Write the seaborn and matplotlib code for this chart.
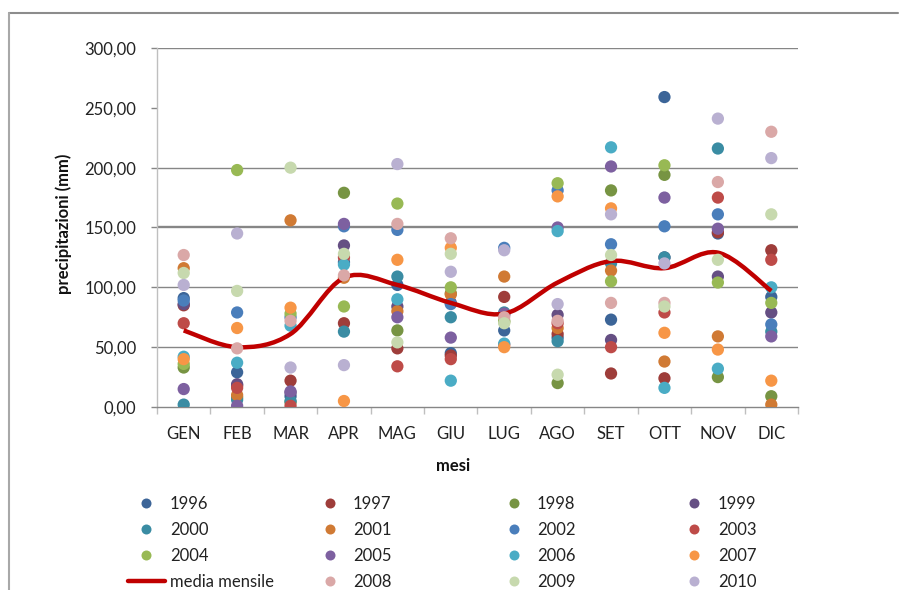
import numpy as np
import pandas as pd
import matplotlib
matplotlib.use("Agg")
import matplotlib.pyplot as plt
import seaborn as sns
from matplotlib.lines import Line2D
from matplotlib.path import Path
from matplotlib.patches import PathPatch

# --- data -----------------------------------------------------------------
mesi = ["GEN", "FEB", "MAR", "APR", "MAG", "GIU",
        "LUG", "AGO", "SET", "OTT", "NOV", "DIC"]
anni = [1996, 1997, 1998, 1999, 2000, 2001, 2002, 2003,
        2004, 2005, 2006, 2007, 2008, 2009, 2010]

p1996 = [91, 29, 9, 121, 102, 45, 64, 58, 73, 259, 145, 92]
p1997 = [85, 18, 22, 70, 49, 43, 92, 61, 28, 24, 146, 131]
p1998 = [33, 8, 4, 179, 64, 95, 72, 20, 181, 194, 25, 9]
p1999 = [86, 19, 12, 135, 84, 87, 77, 77, 56, 125, 109, 79]
p2000 = [2, 6, 5, 63, 109, 75, 79, 55, 120, 125, 216, 63]
p2001 = [116, 10, 156, 108, 80, 94, 109, 66, 114, 38, 59, 2]
p2002 = [89, 79, 75, 151, 148, 86, 133, 181, 136, 151, 161, 69]
p2003 = [70, 16, 1, 125, 34, 40, 52, 70, 50, 79, 175, 123]
p2004 = [36, 198, 78, 84, 170, 100, 71, 187, 105, 202, 104, 87]
p2005 = [15, 1, 13, 153, 75, 58, 78, 150, 201, 175, 149, 59]
p2006 = [42, 37, 68, 119, 90, 22, 53, 147, 217, 16, 32, 100]
p2007 = [40, 66, 83, 5, 123, 133, 50, 176, 166, 62, 48, 22]
p2008 = [127, 49, 72, 110, 153, 141, 75, 72, 87, 87, 188, 230]
p2009 = [112, 97, 200, 128, 54, 128, 70, 27, 127, 84, 123, 161]
p2010 = [102, 145, 33, 35, 203, 113, 131, 86, 161, 120, 241, 208]

media_mensile = [64, 50, 61, 108, 102, 87, 78, 104, 122, 116, 129, 97]

y_ticks = [0, 50, 100, 150, 200, 250, 300]
y_tick_labels = ["0,00", "50,00", "100,00", "150,00", "200,00", "250,00", "300,00"]

# --- styling --------------------------------------------------------------
colori = {
    "1996": "#3C6598", "1997": "#9E3D3A", "1998": "#779443", "1999": "#654F83",
    "2000": "#3A8CA3", "2001": "#D07A34", "2002": "#4A7EBB", "2003": "#BE4B48",
    "2004": "#98B954", "2005": "#7D60A0", "2006": "#4AACC5", "2007": "#F79646",
    "2008": "#DAA8A7", "2009": "#C7D9AE", "2010": "#B9B0D1",
}
ROSSO = "#C00000"
GRIGIO = "#868686"
FS = 12

sns.set_theme(style="white")
plt.rcParams["font.family"] = ["Lato", "DejaVu Sans"]

serie = dict(zip(anni, [p1996, p1997, p1998, p1999, p2000, p2001, p2002, p2003,
                        p2004, p2005, p2006, p2007, p2008, p2009, p2010]))
righe = [(str(a), m, v) for a in anni for m, v in zip(mesi, serie[a])]
df = pd.DataFrame(righe, columns=["anno", "mese", "mm"])
df["mese"] = pd.Categorical(df["mese"], categories=mesi, ordered=True)
ordine = [str(a) for a in anni]

fig = plt.figure(figsize=(9.03, 5.90), dpi=100)
ax = fig.add_axes([157 / 903, 1 - 407 / 590, 641 / 903, 359 / 590])

# years up to 2007 below the average line, later years on top of it
prima = df[df["anno"].astype(int) <= 2007]
dopo = df[df["anno"].astype(int) > 2007]
sns.scatterplot(data=prima, x="mese", y="mm", hue="anno", hue_order=ordine[:12],
                palette=colori, s=78, linewidth=0, legend=False, ax=ax, zorder=3)

# smoothed monthly mean (cubic Bezier through the monthly values)
xs = np.arange(len(mesi), dtype=float)
ys = np.array(media_mensile, dtype=float)
pts = np.column_stack([xs, ys])
verts = [tuple(pts[0])]
codes = [Path.MOVETO]
n = len(pts)
for i in range(n - 1):
    p0 = pts[max(i - 1, 0)]
    p1 = pts[i]
    p2 = pts[i + 1]
    p3 = pts[min(i + 2, n - 1)]
    c1 = p1 + (p2 - p0) / 6.0
    c2 = p2 - (p3 - p1) / 6.0
    verts += [tuple(c1), tuple(c2), tuple(p2)]
    codes += [Path.CURVE4, Path.CURVE4, Path.CURVE4]
ax.add_patch(PathPatch(Path(verts, codes), facecolor="none", edgecolor=ROSSO,
                       lw=3.2, zorder=4, joinstyle="round", capstyle="butt"))

sns.scatterplot(data=dopo, x="mese", y="mm", hue="anno", hue_order=ordine[12:],
                palette=colori, s=78, linewidth=0, legend=False, ax=ax, zorder=5)

# --- axes -----------------------------------------------------------------
ax.set_xlim(-0.5, len(mesi) - 0.5)
ax.set_ylim(0, 300)
ax.grid(False)
for g in [50, 100, 150, 200, 300]:
    ax.axhline(g, color=GRIGIO, lw=1.7 if g == 150 else 1.0, zorder=1)

for s in ["top", "right"]:
    ax.spines[s].set_visible(False)
ax.spines["left"].set_color("#BFBFBF")
ax.spines["left"].set_linewidth(1.0)
ax.spines["bottom"].set_color(GRIGIO)
ax.spines["bottom"].set_linewidth(1.0)

ax.set_yticks(y_ticks)
ax.set_yticklabels(y_tick_labels)
ax.set_xticks(xs)
ax.set_xticklabels(mesi)
ax.set_xticks(np.arange(-0.5, len(mesi), 1.0), minor=True)
ax.tick_params(axis="y", which="major", direction="out", length=4, width=1,
               color=GRIGIO, pad=11, labelsize=FS, labelcolor="#222222", left=True)
ax.tick_params(axis="x", which="major", length=0, pad=14, labelsize=FS,
               labelcolor="#222222", bottom=True)
ax.tick_params(axis="x", which="minor", direction="out", length=5, width=1,
               color="#BFBFBF", bottom=True)

ax.set_xlabel("mesi", fontsize=FS, fontweight="bold", color="#111111")
ax.xaxis.set_label_coords(0.462, -0.163)
ax.xaxis.label.set_va("center")
ax.set_ylabel("precipitazioni (mm)", fontsize=FS, fontweight="bold", color="#111111")
ax.yaxis.set_label_coords(-0.146, 0.51)
ax.yaxis.label.set_va("center")

# --- legend: four fixed-width columns ---------------------------------------
voci = [(str(a), Line2D([], [], ls="none", marker="o", ms=7.2, mec="none",
                        color=colori[str(a)])) for a in anni]
voci.insert(12, ("media mensile", Line2D([], [], color=ROSSO, lw=3.2)))
col_x = [128, 311, 495, 676]
fpx = FS * 100 / 72.0
for c in range(4):
    gruppo = [voci[r * 4 + c] for r in range(4)]
    fig.legend([h for _, h in gruppo], [t for t, _ in gruppo],
               loc="upper left", bbox_to_anchor=(col_x[c] / 903, 1 - 496 / 590),
               frameon=False, fontsize=FS, borderpad=0, borderaxespad=0,
               handlelength=37 / fpx, handletextpad=0.3, labelspacing=0.6,
               labelcolor="#222222")

# --- outer frame ------------------------------------------------------------
fig.add_artist(Line2D([9 / 903, 898 / 903], [1 - 13 / 590, 1 - 13 / 590],
                      transform=fig.transFigure, color="#8C8C8C", lw=1.5))
fig.add_artist(Line2D([9 / 903, 9 / 903], [1 - 13 / 590, 0],
                      transform=fig.transFigure, color="#A8A8A8", lw=1.5))

fig.savefig("out.png", dpi=100)
